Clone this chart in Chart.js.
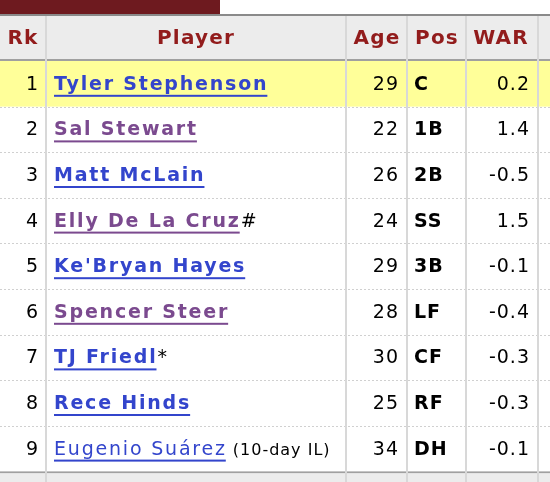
<!DOCTYPE html>
<html><head><meta charset="utf-8">
<script src="https://cdn.jsdelivr.net/npm/chart.js@4"></script>
<style>html,body{margin:0;padding:0;background:#fff}#c{display:block}</style>
</head><body>
<canvas id="c" width="550" height="482"></canvas>
<script>
const headers = ["Rk","Player","Age","Pos","WAR"];
const ranks = [1,2,3,4,5,6,7,8,9];
const players = ["Tyler Stephenson","Sal Stewart","Matt McLain","Elly De La Cruz","Ke'Bryan Hayes","Spencer Steer","TJ Friedl","Rece Hinds","Eugenio Suárez"];
const suffixes = ["","","","#","","","*","",""];
const notes = ["","","","","","","","","(10-day IL)"];
const visited = [false,true,false,true,false,true,false,false,false];
const boldName = [true,true,true,true,true,true,true,true,false];
const ages = [29,22,26,24,29,28,30,25,34];
const positions = ["C","1B","2B","SS","3B","LF","CF","RF","DH"];
const war = [0.2,1.4,-0.5,1.5,-0.1,-0.4,-0.3,-0.3,-0.1];

const F = "'DejaVu Sans', Verdana, sans-serif";
const tablePlugin = {
  id: 'table',
  afterDraw(chart) {
    const ctx = chart.ctx, xs = chart.scales.x, ys = chart.scales.y;
    const X = v => xs.getPixelForValue(v), Y = v => ys.getPixelForValue(v);
    ctx.save();
    ctx.fillStyle = '#6e1a1f'; ctx.fillRect(X(0), Y(0), X(220)-X(0), Y(14)-Y(0));
    ctx.fillStyle = '#8a8a8a'; ctx.fillRect(X(0), Y(14), X(550)-X(0), 2);
    ctx.fillStyle = '#ececec'; ctx.fillRect(X(0), Y(16), X(550), Y(59)-Y(16));
    ctx.fillStyle = '#a0a0a0'; ctx.fillRect(X(0), Y(59), X(550), 2);
    const top = 61, h = 45.6;
    ctx.fillStyle = '#ffff99'; ctx.fillRect(X(0), Y(top), X(550), Y(top+h)-Y(top));
    const bot = top + h*9;
    ctx.fillStyle = '#a0a0a0'; ctx.fillRect(X(0), Y(bot), X(550), 2);
    ctx.fillStyle = '#ececec'; ctx.fillRect(X(0), Y(bot+2), X(550), Y(482)-Y(bot+2));
    ctx.strokeStyle = '#d0d0d0'; ctx.lineWidth = 1; ctx.setLineDash([2,2]);
    for (let i = 1; i < 9; i++) { const y = Math.round(Y(top+h*i))+0.5; ctx.beginPath(); ctx.moveTo(0,y); ctx.lineTo(550,y); ctx.stroke(); }
    ctx.setLineDash([]);
    ctx.strokeStyle = '#d8d8d8'; ctx.lineWidth = 2;
    [46,346,407,466,538].forEach(v => { ctx.beginPath(); ctx.moveTo(X(v), Y(16)); ctx.lineTo(X(v), Y(482)); ctx.stroke(); });
    ctx.fillStyle = '#921c1c'; ctx.font = 'bold 20px '+F; ctx.textBaseline = 'middle'; ctx.textAlign = 'center';
    ctx.letterSpacing = '1.2px';
    const hx = [23,196,377,437,501];
    headers.forEach((t,i) => ctx.fillText(t, X(hx[i]), Y(39)));
    for (let i = 0; i < 9; i++) {
      const cy = Y(top + h*i + h/2 + 1);
      ctx.letterSpacing = '1px';
      ctx.font = '19px '+F; ctx.fillStyle = '#000'; ctx.textAlign = 'right';
      ctx.fillText(String(ranks[i]), X(39), cy);
      ctx.fillText(String(ages[i]), X(399), cy);
      ctx.fillText(war[i].toFixed(1), X(530), cy);
      ctx.textAlign = 'left'; ctx.font = 'bold 19px '+F;
      ctx.fillText(positions[i], X(414), cy);
      ctx.letterSpacing = '1.8px';
      ctx.font = (boldName[i] ? 'bold ' : '') + '19px ' + F;
      ctx.fillStyle = visited[i] ? '#7b4a8f' : '#3345cc';
      const nx = X(54);
      ctx.fillText(players[i], nx, cy);
      const w = ctx.measureText(players[i]).width;
      ctx.fillRect(nx, cy+10, w-1, 2);
      let ex = nx + w;
      ctx.fillStyle = '#000';
      if (suffixes[i]) { ctx.font = '19px '+F; ctx.fillText(suffixes[i], ex, cy); ex += ctx.measureText(suffixes[i]).width; }
      if (notes[i]) { ctx.letterSpacing = '1px'; ctx.font = '16px '+F; ctx.fillText(notes[i], ex + 6, cy+1); }
    }
    ctx.restore();
  }
};
new Chart(document.getElementById('c'), {
  type: 'scatter',
  data: { datasets: [{ data: [] }] },
  options: {
    responsive: false, animation: false, devicePixelRatio: 1,
    layout: { padding: 0 },
    plugins: { legend: { display: false }, tooltip: { enabled: false } },
    scales: {
      x: { type: 'linear', min: 0, max: 550, display: false },
      y: { type: 'linear', min: 0, max: 482, reverse: true, display: false }
    }
  },
  plugins: [tablePlugin]
});
</script>
</body></html>
